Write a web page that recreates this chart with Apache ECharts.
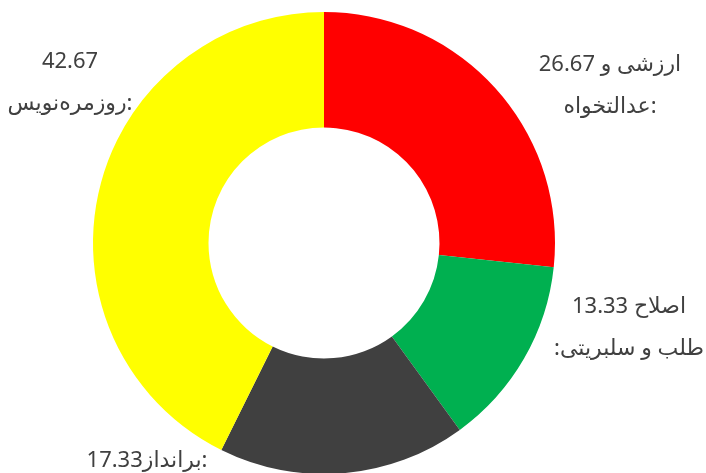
<!DOCTYPE html>
<html>
<head>
<meta charset="utf-8">
<script src="https://cdn.jsdelivr.net/npm/echarts@6/dist/echarts.min.js"></script>
<style>html,body{margin:0;padding:0;background:#fff}#c{width:706px;height:473px}</style>
</head>
<body>
<div id="c"></div>
<script>
// Data
var categories = ['ارزشی و عدالتخواه', 'اصلاح طلب و سلبریتی', 'برانداز', 'روزمره‌نویس'];
var values = [26.67, 13.33, 17.33, 42.67];
// label text split: first line part (shown with value), second line part
var labelHead = ['ارزشی و', 'اصلاح', '', ''];
var labelTail = ['عدالتخواه', 'طلب و سلبریتی', 'برانداز', 'روزمره‌نویس'];
var colors = ['#FF0000', '#00B050', '#404040', '#FFFF00'];
// label anchors in pixels (layout only)
var labelPos = [[610, 86], [629, 328], [147, 461], [70, 83]];

var chart = echarts.init(document.getElementById('c'), null, {renderer: 'canvas'});
var data = categories.map(function (n, i) {
  return {name: n, value: values[i], itemStyle: {color: colors[i]}};
});
function fmt(p) {
  var i = p.dataIndex, v = values[i].toFixed(2);
  if (i === 2) return '{t|' + v + labelTail[i] + ':}';
  var l1 = labelHead[i] ? labelHead[i] + ' ' + v : v;
  var l2 = i === 1 ? ':' + labelTail[i] : labelTail[i] + ':';
  return '{t|' + l1 + '}\n{t|' + l2 + '}';
}
chart.setOption({
  animation: false,
  series: [{
    type: 'pie',
    center: ['324px', '243px'],
    radius: [115.5, 231],
    startAngle: 90,
    clockwise: true,
    data: data,
    itemStyle: {borderWidth: 0},
    label: {
      show: true,
      position: 'outside',
      overflow: 'none',
      formatter: fmt,
      rich: {
        t: {fontFamily: 'Noto Sans, DejaVu Sans, sans-serif', fontSize: 22, color: '#404040', lineHeight: 42, align: 'center', overflow: 'none'}
      }
    },
    labelLine: {show: false},
    labelLayout: function (p) {
      var pos = labelPos[p.dataIndex];
      return {x: pos[0], y: pos[1], align: 'center', verticalAlign: 'middle'};
    }
  }]
});
</script>
</body>
</html>
